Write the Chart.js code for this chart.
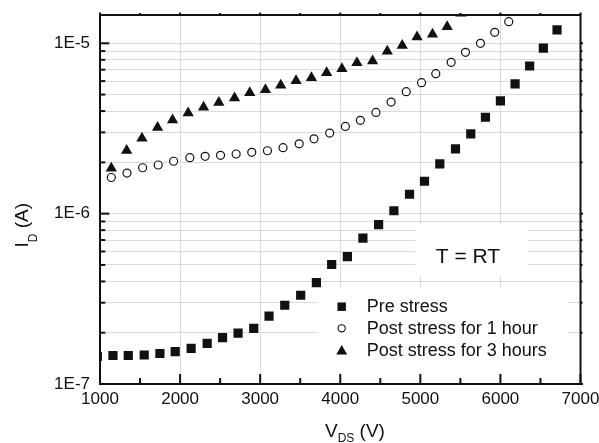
<!DOCTYPE html>
<html>
<head>
<meta charset="utf-8">
<script src="https://cdn.jsdelivr.net/npm/chart.js@4/dist/chart.umd.min.js"></script>
<style>
  html, body { margin: 0; padding: 0; background: #fff; }
  #c { display: block; }
</style>
</head>
<body>
<canvas id="c" width="599" height="443"></canvas>
<script>
// ---- data ----
const seriesLabels = ['Pre stress', 'Post stress for 1 hour', 'Post stress for 3 hours'];

const vds_pre = [967, 1162, 1353, 1552, 1748, 1939, 2138, 2338, 2530, 2724, 2920, 3111, 3307, 3506, 3702, 3893, 4089, 4283, 4479, 4670, 4865, 5052, 5243, 5439, 5630, 5813, 6000, 6183, 6365, 6536, 6707];
const id_pre  = [1.45e-7, 1.47e-7, 1.47e-7, 1.48e-7, 1.51e-7, 1.55e-7, 1.62e-7, 1.73e-7, 1.87e-7, 1.99e-7, 2.12e-7, 2.50e-7, 2.90e-7, 3.32e-7, 3.94e-7, 5.03e-7, 5.60e-7, 7.19e-7, 8.63e-7, 1.04e-6, 1.30e-6, 1.55e-6, 1.96e-6, 2.40e-6, 2.94e-6, 3.68e-6, 4.59e-6, 5.78e-6, 7.36e-6, 9.38e-6, 1.20e-5];

const vds_1h = [946, 1141, 1337, 1532, 1727, 1919, 2122, 2313, 2505, 2700, 2895, 3091, 3286, 3487, 3672, 3868, 4064, 4251, 4446, 4635, 4824, 5015, 5193, 5385, 5564, 5751, 5929, 6104];
const id_1h  = [1.43e-6, 1.63e-6, 1.73e-6, 1.86e-6, 1.93e-6, 2.03e-6, 2.13e-6, 2.17e-6, 2.20e-6, 2.24e-6, 2.29e-6, 2.34e-6, 2.44e-6, 2.57e-6, 2.75e-6, 2.97e-6, 3.25e-6, 3.53e-6, 3.93e-6, 4.52e-6, 5.20e-6, 5.87e-6, 6.63e-6, 7.73e-6, 8.85e-6, 1.00e-5, 1.16e-5, 1.34e-5];

const vds_3h = [1141, 1333, 1524, 1719, 1906, 2101, 2293, 2484, 2680, 2870, 3066, 3257, 3448, 3640, 3830, 4021, 4208, 4404, 4587, 4774, 4959, 5152, 5335, 5509];
const id_3h  = [1.85e-6, 2.35e-6, 2.77e-6, 3.20e-6, 3.55e-6, 3.90e-6, 4.21e-6, 4.50e-6, 4.78e-6, 5.13e-6, 5.34e-6, 5.67e-6, 6.03e-6, 6.28e-6, 6.72e-6, 7.08e-6, 7.68e-6, 7.86e-6, 8.97e-6, 9.72e-6, 1.09e-5, 1.13e-5, 1.25e-5, 1.50e-5];

const xTicks = [1000, 2000, 3000, 4000, 5000, 6000, 7000];
const xTickLabels = ['1000', '2000', '3000', '4000', '5000', '6000', '7000'];
const yMajorTicks = [1e-7, 1e-6, 1e-5];
const yTickLabels = ['1E-7', '1E-6', '1E-5'];
const annotationText = 'T = RT';

// ---- helpers ----
const FONT = '"Liberation Sans", Arial, Helvetica, sans-serif';
const INK = '#111';
const toPts = (xs, ys) => xs.map((v, i) => ({ x: v, y: ys[i] }));

// minor log ticks (2..9 x decade) and minor x ticks (midpoints)
const yMinorTicks = [];
yMajorTicks.forEach(d => { for (let k = 2; k <= 9; k++) yMinorTicks.push(d * k); });
const xMinorTicks = [];
for (let i = 0; i < xTicks.length - 1; i++) xMinorTicks.push((xTicks[i] + xTicks[i + 1]) / 2);

const Y_MIN = 1e-7, Y_MAX = 1.466e-5;

function drawMarker(ctx, style, x, y, r, fill, stroke, lw) {
  ctx.save();
  ctx.beginPath();
  if (style === 'rect') {
    const s = Math.SQRT1_2 * r;
    ctx.rect(x - s, y - s, 2 * s, 2 * s);
  } else if (style === 'circle') {
    ctx.arc(x, y, r, 0, Math.PI * 2);
  } else if (style === 'triangle') {
    const a = 2 * Math.PI / 3;
    ctx.moveTo(x, y - r);
    ctx.lineTo(x + Math.sin(a) * r, y - Math.cos(a) * r);
    ctx.lineTo(x + Math.sin(2 * a) * r, y - Math.cos(2 * a) * r);
    ctx.closePath();
  }
  if (fill) { ctx.fillStyle = fill; ctx.fill(); }
  if (stroke) { ctx.strokeStyle = stroke; ctx.lineWidth = lw; ctx.stroke(); }
  ctx.restore();
}

const decorPlugin = {
  id: 'decor',
  beforeDatasetsDraw(chart) {
    const ctx = chart.ctx;
    ctx.save();
    // white panels that hide the grid under the note and legend
    ctx.fillStyle = '#fff';
    ctx.fillRect(415, 224, 113, 52);
    ctx.fillRect(318, 288, 250, 85);
    // note
    ctx.fillStyle = INK;
    ctx.font = '21px ' + FONT;
    ctx.textAlign = 'center';
    ctx.textBaseline = 'alphabetic';
    ctx.fillText(annotationText, 468, 262.7);
    // legend
    const styles = ['rect', 'circle', 'triangle'];
    const rowsY = [306.7, 328.3, 350];
    ctx.font = '18px ' + FONT;
    ctx.textAlign = 'left';
    ctx.textBaseline = 'alphabetic';
    seriesLabels.forEach((lab, i) => {
      const cy = rowsY[i];
      if (styles[i] === 'rect') drawMarker(ctx, 'rect', 341.7, cy, 6, INK, null, 0);
      if (styles[i] === 'circle') drawMarker(ctx, 'circle', 341.7, cy, 3.6, '#fff', INK, 1.1);
      if (styles[i] === 'triangle') drawMarker(ctx, 'triangle', 341.7, cy + 1.3, 6.3, INK, null, 0);
      ctx.fillStyle = INK;
      ctx.fillText(lab, 366.7, cy + 5.6);
    });
    ctx.restore();
  },
  afterDraw(chart) {
    const ctx = chart.ctx;
    const a = chart.chartArea;
    const x = chart.scales.x, y = chart.scales.y;
    ctx.save();
    ctx.strokeStyle = INK;
    ctx.lineWidth = 2;
    ctx.lineCap = 'butt';
    ctx.strokeRect(a.left, a.top, a.right - a.left, a.bottom - a.top);
    const seg = (x1, y1, x2, y2) => { ctx.beginPath(); ctx.moveTo(x1, y1); ctx.lineTo(x2, y2); ctx.stroke(); };
    // x ticks (inside at bottom, short outside at top)
    xTicks.forEach(v => { const p = x.getPixelForValue(v); seg(p, a.bottom, p, a.bottom - 10); seg(p, a.top, p, a.top - 2.5); });
    xMinorTicks.forEach(v => { const p = x.getPixelForValue(v); seg(p, a.bottom, p, a.bottom - 6); seg(p, a.top, p, a.top - 2); });
    // y ticks (inside at left, short outside at right)
    yMajorTicks.forEach(v => { const p = y.getPixelForValue(v); seg(a.left, p, a.left + 9.3, p); seg(a.right, p, a.right + 2.5, p); });
    yMinorTicks.forEach(v => { if (v > Y_MAX) return; const p = y.getPixelForValue(v); seg(a.left, p, a.left + 5.3, p); seg(a.right, p, a.right + 2, p); });

    // axis titles with subscripts
    ctx.fillStyle = INK;
    ctx.textBaseline = 'alphabetic';
    ctx.textAlign = 'left';
    // x title: V_DS (V)
    ctx.font = '19px ' + FONT;
    let tx = 325;
    ctx.fillText('V', tx, 436.7);
    tx += ctx.measureText('V').width;
    ctx.font = '12px ' + FONT;
    ctx.fillText('DS', tx, 441.7);
    tx += ctx.measureText('DS').width;
    ctx.font = '19px ' + FONT;
    ctx.fillText(' (V)', tx, 436.7);
    // y title: I_D (A), rotated
    ctx.save();
    ctx.translate(28.3, 247.5);
    ctx.rotate(-Math.PI / 2);
    ctx.font = '19px ' + FONT;
    let ty = 0;
    ctx.fillText('I', ty, 0);
    ty += ctx.measureText('I').width;
    ctx.font = '12px ' + FONT;
    ctx.fillText('D', ty, 8.4);
    ty += ctx.measureText('D').width;
    ctx.font = '19px ' + FONT;
    ctx.fillText(' (A)', ty, 0);
    ctx.restore();
    ctx.restore();
  }
};

new Chart(document.getElementById('c'), {
  type: 'scatter',
  data: {
    datasets: [
      { label: seriesLabels[0], data: toPts(vds_pre, id_pre), pointStyle: 'rect', pointRadius: 6.5,
        backgroundColor: INK, borderColor: INK, borderWidth: 0, clip: 0 },
      { label: seriesLabels[1], data: toPts(vds_1h, id_1h), pointStyle: 'circle', pointRadius: 4,
        backgroundColor: '#fff', borderColor: INK, borderWidth: 1.2, clip: 0 },
      { label: seriesLabels[2], data: toPts(vds_3h, id_3h), pointStyle: 'triangle', pointRadius: 6.5,
        backgroundColor: INK, borderColor: INK, borderWidth: 0, clip: 0 }
    ]
  },
  options: {
    responsive: false,
    devicePixelRatio: 1,
    animation: false,
    events: [],
    layout: { padding: { left: 0, right: 18.5, top: 15, bottom: 0 } },
    plugins: { legend: { display: false }, tooltip: { enabled: false }, title: { display: false } },
    scales: {
      x: {
        type: 'linear',
        min: xTicks[0], max: xTicks[xTicks.length - 1],
        afterBuildTicks: s => { s.ticks = xTicks.map(v => ({ value: v })); },
        afterFit: s => { s.height = 59; s.paddingLeft = 0; s.paddingRight = 0; },
        ticks: {
          autoSkip: false, maxRotation: 0, padding: 5,
          color: INK, font: { family: FONT, size: 17 },
          callback: (v) => { const i = xTicks.indexOf(v); return i >= 0 ? xTickLabels[i] : ''; }
        },
        grid: { color: '#dadada', lineWidth: 1, drawTicks: false },
        border: { display: false }
      },
      y: {
        type: 'logarithmic',
        min: Y_MIN, max: Y_MAX,
        afterBuildTicks: s => {
          const vals = yMajorTicks.concat(yMinorTicks).filter(v => v >= Y_MIN && v <= Y_MAX).sort((a, b) => a - b);
          s.ticks = vals.map(v => ({ value: v }));
        },
        afterFit: s => { s.width = 100; s.paddingTop = 0; s.paddingBottom = 0; },
        ticks: {
          autoSkip: false, padding: 10,
          color: INK, font: { family: FONT, size: 17 },
          callback: (v) => {
            const i = yMajorTicks.findIndex(m => Math.abs(m - v) / m < 1e-6);
            return i >= 0 ? yTickLabels[i] : '';
          }
        },
        grid: { color: '#dadada', lineWidth: 1, drawTicks: false },
        border: { display: false }
      }
    }
  },
  plugins: [decorPlugin]
});
</script>
</body>
</html>
